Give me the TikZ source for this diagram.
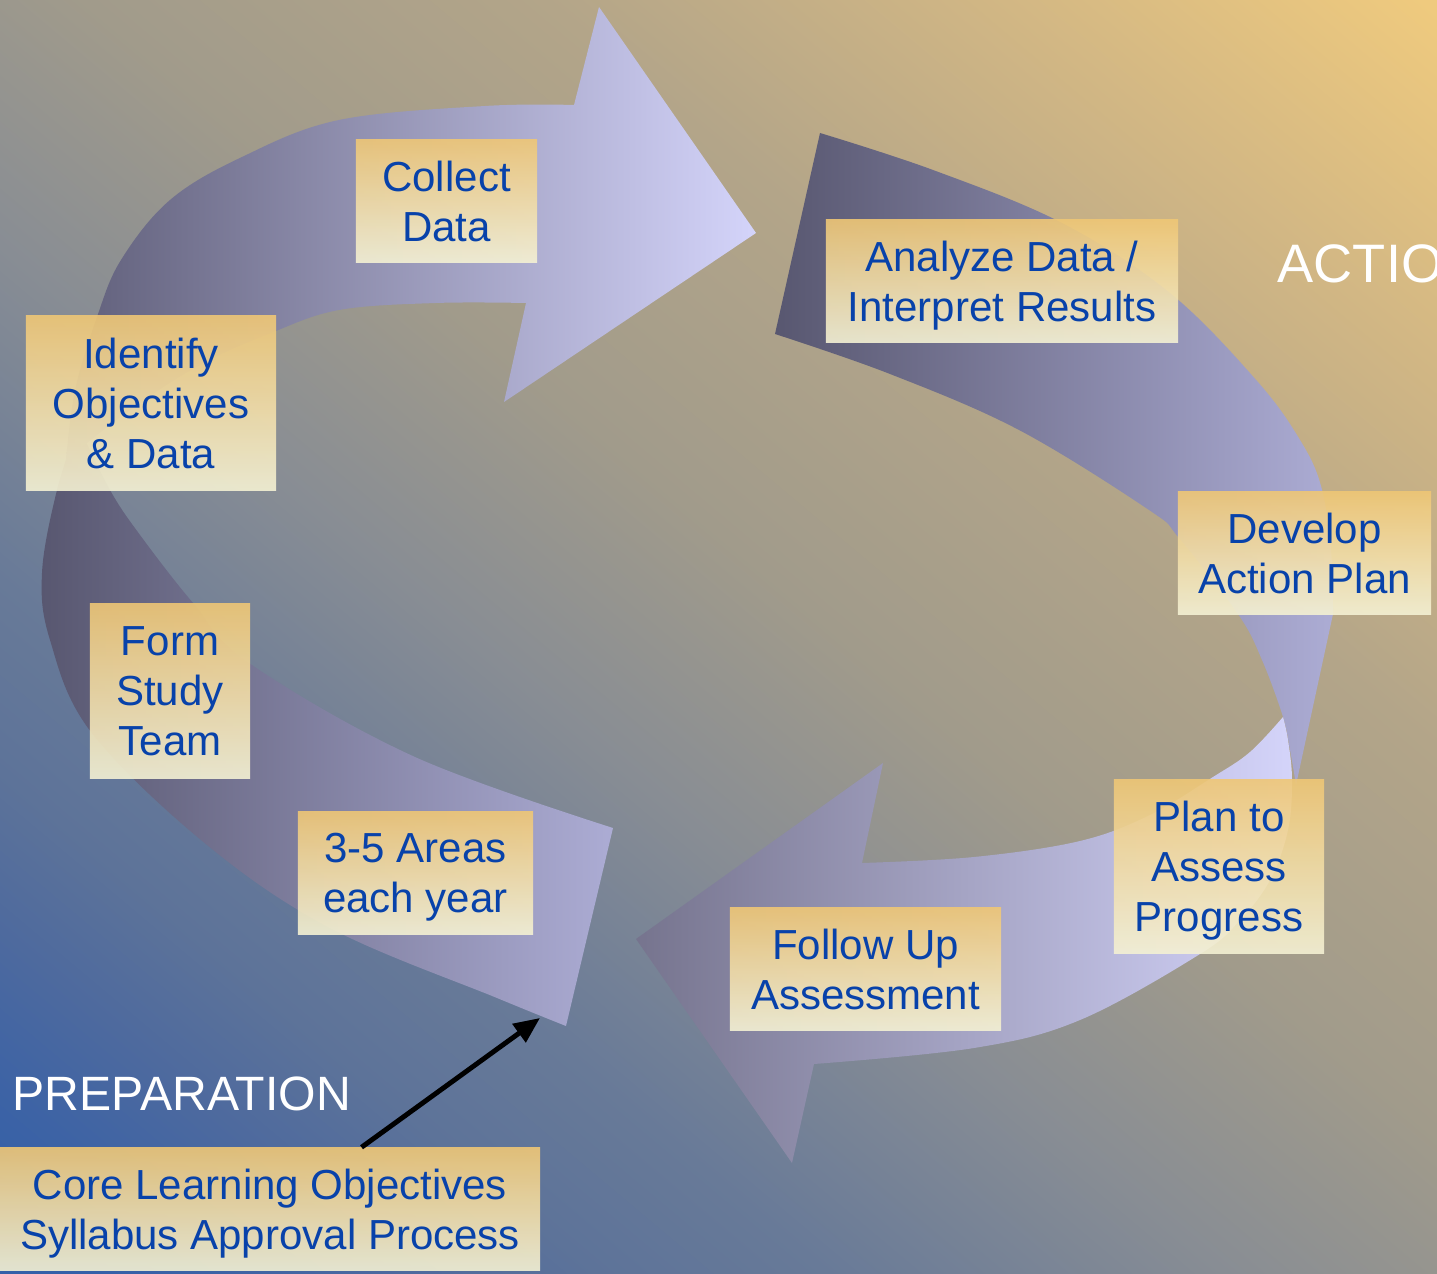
\documentclass[tikz,border=0pt]{standalone}
\usepackage{fontspec}
\setmainfont{Liberation Sans}
\usepackage{tikz}
\usetikzlibrary{arrows.meta}
\definecolor{bggold}{RGB}{239,202,126}
\definecolor{bgsand}{RGB}{210,183,132}
\definecolor{bgtan}{RGB}{179,165,137}
\definecolor{bgtaupe}{RGB}{161,155,139}
\definecolor{bggray}{RGB}{136,141,148}
\definecolor{bgslate}{RGB}{104,122,152}
\definecolor{bgsteel}{RGB}{93,115,153}
\definecolor{bgdusk}{RGB}{78,106,158}
\definecolor{bgmid}{RGB}{61,99,165}
\definecolor{bgblue}{RGB}{52,96,168}
\definecolor{boxtop}{RGB}{239,199,118}
\definecolor{boxbot}{RGB}{244,241,212}
\definecolor{labelblue}{RGB}{8,66,170}
\definecolor{ribdark}{RGB}{88,87,112}
\definecolor{ribmid}{RGB}{172,172,212}
\definecolor{ribfront}{RGB}{96,95,122}
\definecolor{riblight}{RGB}{212,212,250}
\definecolor{ribhead}{RGB}{118,116,142}
\pgfdeclareverticalshading{bgdiag}{100bp}{color(0bp)=(bgblue); color(17bp)=(bgblue); color(20bp)=(bgmid); color(24.5bp)=(bgdusk); color(29bp)=(bgsteel); color(34.5bp)=(bgslate); color(44bp)=(bggray); color(53bp)=(bgtaupe); color(64bp)=(bgtan); color(75bp)=(bgsand); color(85bp)=(bggold); color(100bp)=(bggold)}

\begin{document}
\begin{tikzpicture}[x=0.01cm,y=-0.01cm,
  cyclebox/.style={top color=boxtop, bottom color=boxbot, fill opacity=0.9, text opacity=1,
    text=labelblue, align=center, inner sep=0pt, text depth=0pt,
    font=\fontsize{11.95}{14.23}\selectfont},
  twoline/.style={cyclebox, minimum height=1.22cm},
  threeline/.style={cyclebox, minimum height=1.74cm},
  bigword/.style={text=white, anchor=base west, inner sep=0pt},
  feedline/.style={line width=1.4pt, -{Triangle[length=0.26cm,width=0.22cm]}}]
\useasboundingbox (0,0) rectangle (1437,1274);
\clip (0,0) rectangle (1437,1274);
\shade[shading=bgdiag, shading angle=-40] (0,0) rectangle (1437,1274);

\shade[left color=ribdark, right color=ribmid] plot[smooth,tension=0.6] coordinates {(820,133) (933,170) (1062,223) (1170,293) (1257,381) (1300,440) (1321,486) (1331,550) (1333,614)} -- (1296,785) -- plot[smooth,tension=0.6] coordinates {(1296,785) (1290,750) (1283,717) (1262,660) (1238,614) (1179,538) (1149,510) (1019,430) (890,374) (775,334)} -- cycle;
\shade[left color=ribhead, right color=riblight] plot[smooth,tension=0.6] coordinates {(1283,717) (1288,740) (1292,780) (1288,830) (1270,880) (1240,920) (1200,954) (1080,1020) (974,1048) (814,1064)} -- (792,1163) -- (636,939) -- (883,763) -- plot[smooth,tension=0.6] coordinates {(862,863) (974,857) (1080,841) (1150,815) (1213,777) (1250,752) (1283,717)} -- cycle;
\shade[left color=ribdark, right color=ribmid] plot[smooth,tension=0.6] coordinates {(78,425) (57,490) (42,573) (50,640) (91,732) (207,845) (332,929) (497,998) (566,1026)} -- (613,828) -- plot[smooth,tension=0.6] coordinates {(613,828) (415,757) (249,663) (193,603) (140,535) (110,490) (78,425)} -- cycle;
\shade[left color=ribfront, right color=riblight] plot[smooth,tension=0.6] coordinates {(66,460) (75,390) (97,317) (121,260) (170,200) (242,157) (339,120) (485,106) (574,105)} -- (599,7) -- (756,233) -- (504,402) -- plot[smooth,tension=0.6] coordinates {(526,303) (436,303) (339,310) (271,333) (200,365) (130,410) (66,460)} -- cycle;

\node[twoline, minimum width=1.81cm] (collect) at (446.5,201) {Collect\\Data};
\node[threeline, minimum width=2.50cm] (identify) at (151,403) {Identify\\Objectives\\\& Data};
\node[twoline, minimum width=3.52cm] (analyze) at (1002,281) {Analyze Data /\\Interpret Results};
\node[twoline, minimum width=2.53cm] (develop) at (1304.5,553) {Develop\\Action Plan};
\node[threeline, minimum width=2.10cm] (planassess) at (1219,866.5) {Plan to\\Assess\\Progress};
\node[twoline, minimum width=2.71cm] (followup) at (865.5,969) {Follow Up\\Assessment};
\node[threeline, minimum width=1.60cm] (formteam) at (170,691) {Form\\Study\\Team};
\node[twoline, minimum width=2.35cm] (areas) at (415.5,873) {3-5 Areas\\each year};
\node[twoline, minimum width=5.40cm] (core) at (270,1209) {Core Learning Objectives\\Syllabus Approval Process};

\node[bigword, font=\fontsize{13.7}{16}\selectfont] (prep) at (12,1110) {PREPARATION};
\node[bigword, font=\fontsize{15.4}{18}\selectfont] (action) at (1277,283) {ACTIO};

\coordinate (tailA) at (540,1018);
\draw[feedline] (core.34) -- (tailA);
\end{tikzpicture}
\end{document}
